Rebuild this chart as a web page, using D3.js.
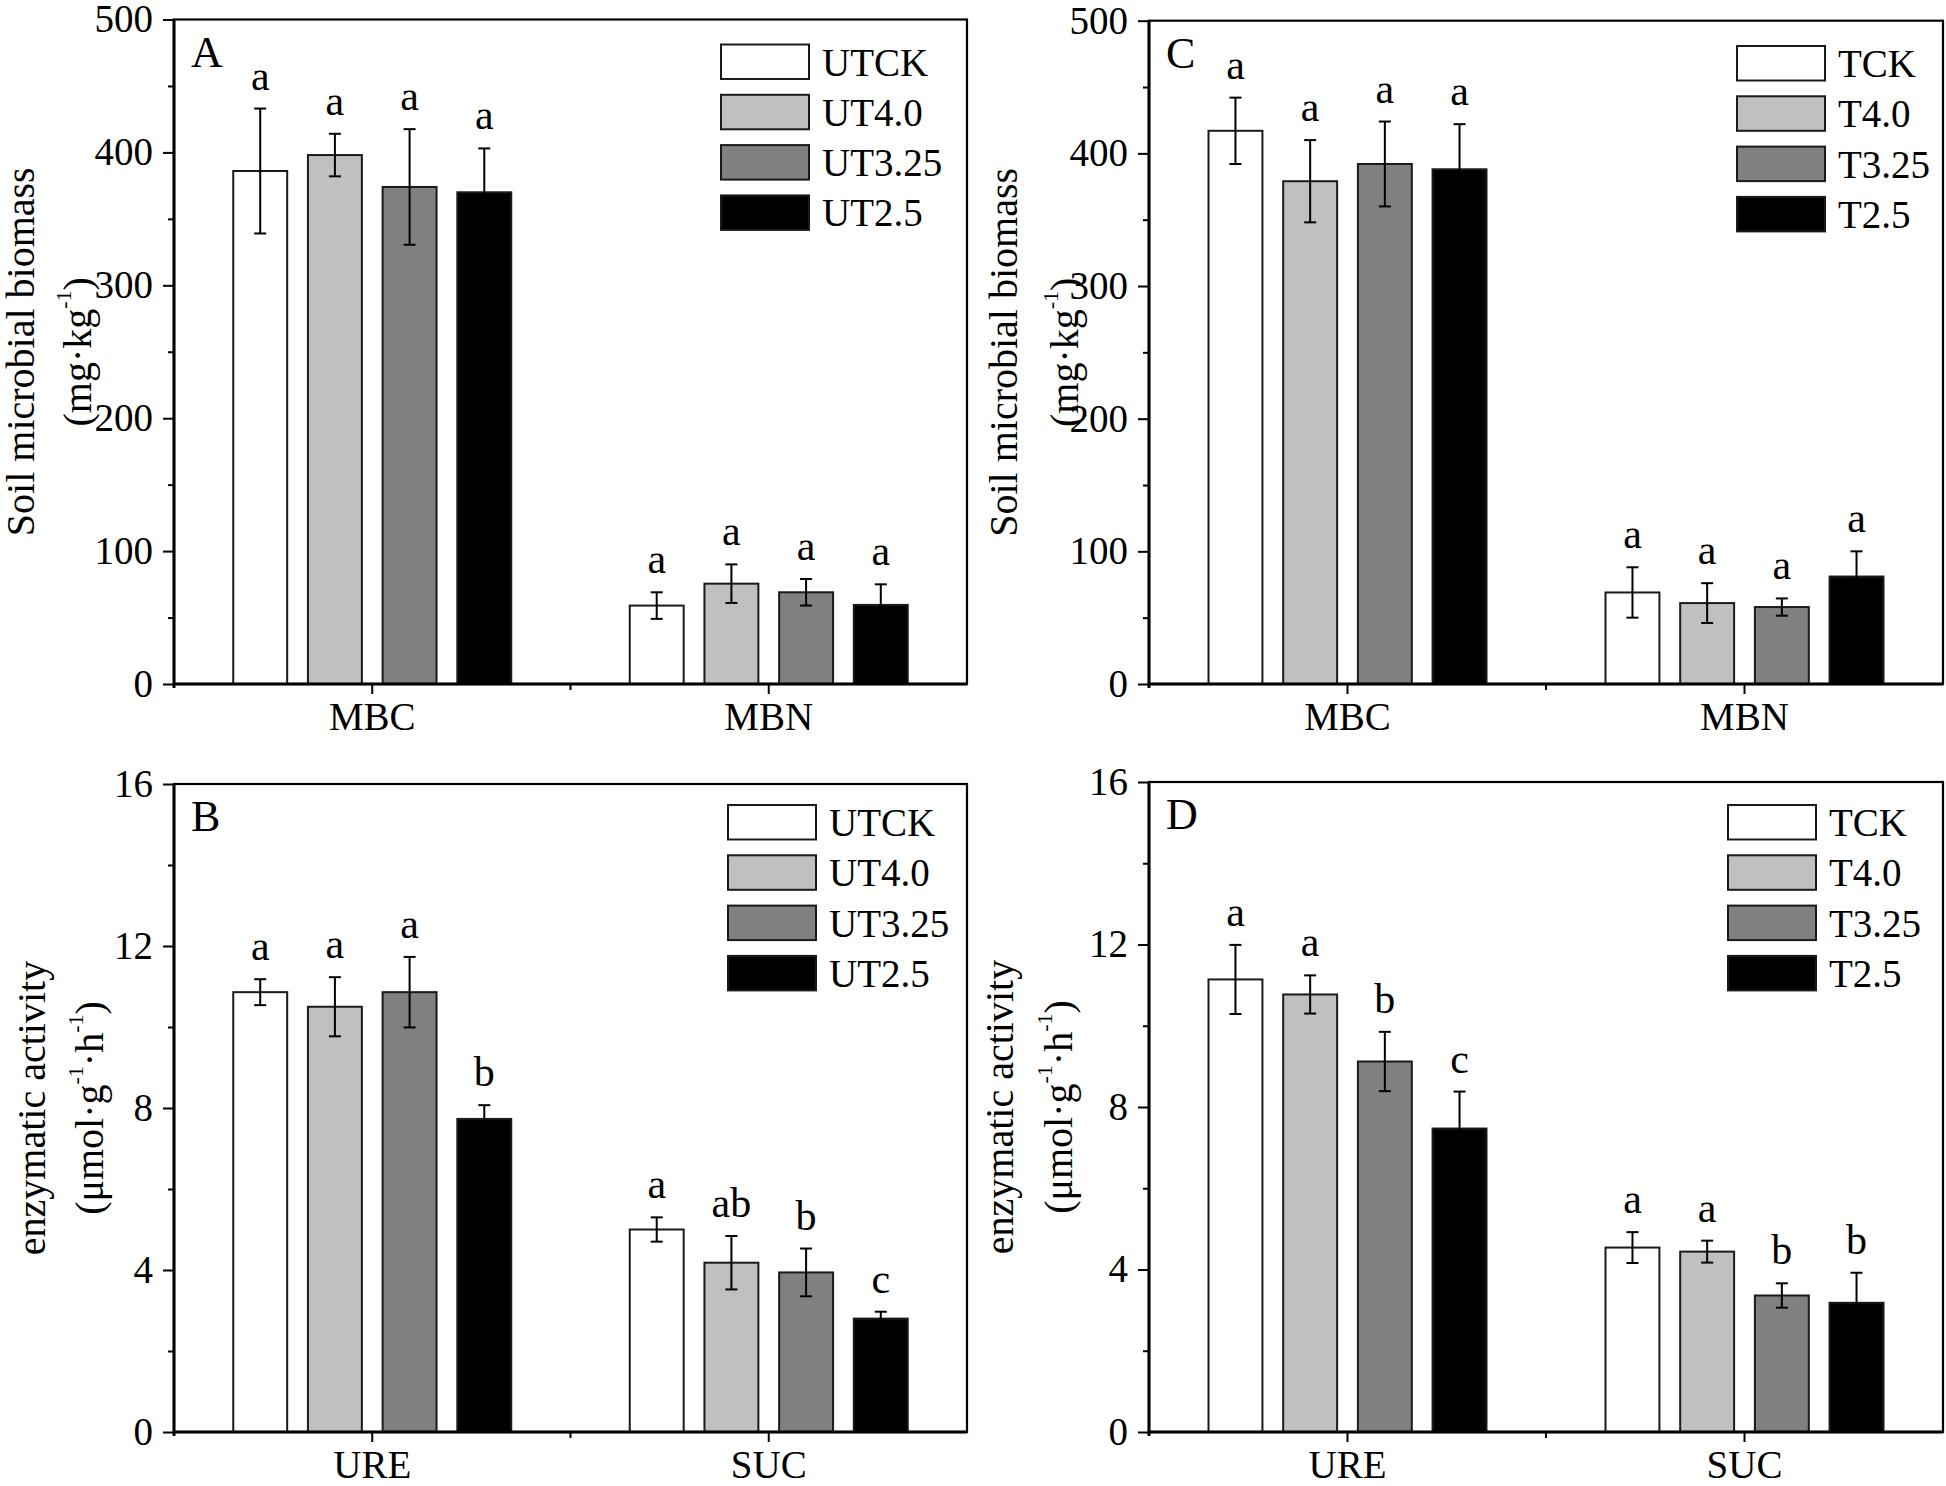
<!DOCTYPE html>
<html>
<head>
<meta charset="utf-8">
<script src="https://cdn.jsdelivr.net/npm/d3@7"></script>
<style>
body { margin: 0; background: #fff; }
svg text { font-family: "Liberation Serif", "Times New Roman", serif; fill: #000; }
</style>
</head>
<body>
<svg id="chart" width="1946" height="1486"></svg>
<script>
// treatments (left column untreated, right column treated)
var untreatedSeries = ["UTCK", "UT4.0", "UT3.25", "UT2.5"];
var treatedSeries = ["TCK", "T4.0", "T3.25", "T2.5"];
var seriesFills = ["#ffffff", "#c0c0c0", "#808080", "#000000"];

var biomassCats = ["MBC", "MBN"];
var enzymeCats = ["URE", "SUC"];

var biomassTicks = [0, 100, 200, 300, 400, 500];
var biomassMinor = [50, 150, 250, 350, 450];
var enzymeTicks = [0, 4, 8, 12, 16];
var enzymeMinor = [2, 6, 10, 14];

// panel A - soil microbial biomass, untreated
var aMeans = [[386, 398, 374, 370], [59, 75.5, 69, 59.5]];
var aErrs = [[47, 16, 43.5, 33], [10, 14.5, 10, 15.5]];
var aLetters = [["a", "a", "a", "a"], ["a", "a", "a", "a"]];

// panel B - enzymatic activity, untreated
var bMeans = [[10.86, 10.5, 10.86, 7.73], [5.0, 4.18, 3.94, 2.8]];
var bErrs = [[0.32, 0.73, 0.87, 0.34], [0.3, 0.66, 0.59, 0.17]];
var bLetters = [["a", "a", "a", "b"], ["a", "ab", "b", "c"]];

// panel C - soil microbial biomass, treated
var cMeans = [[417, 379, 392, 388], [69, 61, 58, 81]];
var cErrs = [[25, 31, 32, 34], [19, 15, 6.5, 19]];
var cLetters = [["a", "a", "a", "a"], ["a", "a", "a", "a"]];

// panel D - enzymatic activity, treated
var dMeans = [[11.14, 10.77, 9.12, 7.47], [4.54, 4.44, 3.36, 3.18]];
var dErrs = [[0.85, 0.47, 0.73, 0.91], [0.38, 0.27, 0.3, 0.74]];
var dLetters = [["a", "a", "b", "c"], ["a", "a", "b", "b"]];

var biomassTitle = ["Soil microbial biomass", [["(mg·kg", 0], ["-1", 1], [")", 0]]];
var enzymeTitle = ["enzymatic activity", [["(μmol·g", 0], ["-1", 1], ["·h", 0], ["-1", 1], [")", 0]]];

var svg = d3.select("#chart");
var tickFont = 39;
var titleFont = 40;

var panels = [
    {label: "A", cats: biomassCats, series: untreatedSeries, means: aMeans, errs: aErrs, letters: aLetters,
     yMax: 500, ticks: biomassTicks, minor: biomassMinor, title: biomassTitle,
     left: 174, right: 967, top: 19.5, bottom: 684, legX: 721, legY: 44.5, titleX: [34, 91]},
    {label: "B", cats: enzymeCats, series: untreatedSeries, means: bMeans, errs: bErrs, letters: bLetters,
     yMax: 16, ticks: enzymeTicks, minor: enzymeMinor, title: enzymeTitle,
     left: 174, right: 967, top: 784, bottom: 1432, legX: 728, legY: 805, titleX: [45, 103]},
    {label: "C", cats: biomassCats, series: treatedSeries, means: cMeans, errs: cErrs, letters: cLetters,
     yMax: 500, ticks: biomassTicks, minor: biomassMinor, title: biomassTitle,
     left: 1149, right: 1943, top: 20.7, bottom: 684, legX: 1737, legY: 46, titleX: [1017, 1078]},
    {label: "D", cats: enzymeCats, series: treatedSeries, means: dMeans, errs: dErrs, letters: dLetters,
     yMax: 16, ticks: enzymeTicks, minor: enzymeMinor, title: enzymeTitle,
     left: 1149, right: 1943, top: 782, bottom: 1432, legX: 1728, legY: 805, titleX: [1013, 1072]}
];

panels.forEach(drawPanel);

function drawPanel(p) {
    var g = svg.append("g");

    var x = d3.scaleBand().domain(p.cats).range([p.left, p.right]);
    var groupW = 278;
    var x1 = d3.scaleBand().domain(p.series).range([-groupW / 2, groupW / 2]).paddingInner(0.278);
    var y = d3.scaleLinear().domain([0, p.yMax]).range([p.bottom, p.top]);

    // flatten into rows
    var rows = [];
    p.cats.forEach(function(c, ci) {
        p.series.forEach(function(s, si) {
            rows.push({cat: c, series: s, mean: p.means[ci][si], err: p.errs[ci][si],
                       letter: p.letters[ci][si], fill: seriesFills[si]});
        });
    });
    var cx = function(d) { return x(d.cat) + x.bandwidth() / 2 + x1(d.series) + x1.bandwidth() / 2; };

    // bars
    g.selectAll("rect.bar")
        .data(rows)
        .join("rect")
        .attr("class", "bar")
        .attr("x", d => x(d.cat) + x.bandwidth() / 2 + x1(d.series))
        .attr("y", d => y(d.mean))
        .attr("width", x1.bandwidth())
        .attr("height", d => p.bottom - y(d.mean))
        .attr("fill", d => d.fill)
        .attr("stroke", "#1a1a1a")
        .attr("stroke-width", 2);

    // error bars
    var eb = g.selectAll("g.err").data(rows).join("g").attr("class", "err")
        .attr("stroke", "#000").attr("stroke-width", 2);
    eb.append("line")
        .attr("x1", cx).attr("x2", cx)
        .attr("y1", d => y(d.mean - d.err)).attr("y2", d => y(d.mean + d.err));
    eb.append("line")
        .attr("x1", d => cx(d) - 6).attr("x2", d => cx(d) + 6)
        .attr("y1", d => y(d.mean + d.err)).attr("y2", d => y(d.mean + d.err));
    eb.append("line")
        .attr("x1", d => cx(d) - 6).attr("x2", d => cx(d) + 6)
        .attr("y1", d => y(d.mean - d.err)).attr("y2", d => y(d.mean - d.err));

    // significance letters
    g.selectAll("text.sig").data(rows).join("text")
        .attr("class", "sig")
        .attr("x", cx)
        .attr("y", d => y(d.mean + d.err) - 19)
        .attr("text-anchor", "middle")
        .attr("font-size", 42)
        .text(d => d.letter);

    // axes
    g.append("g").attr("transform", "translate(" + p.left + ",0)")
        .call(d3.axisLeft(y).tickValues(p.ticks).tickSize(11).tickPadding(10).tickSizeOuter(0));
    g.append("g").attr("transform", "translate(" + p.left + ",0)")
        .call(d3.axisLeft(y).tickValues(p.minor).tickSize(6).tickFormat("").tickSizeOuter(0));
    g.append("g").attr("transform", "translate(0," + p.bottom + ")")
        .call(d3.axisBottom(x).tickSize(10).tickPadding(8).tickSizeOuter(0));
    // minor tick between the two categories
    g.append("line")
        .attr("x1", x(p.cats[1])).attr("x2", x(p.cats[1]))
        .attr("y1", p.bottom).attr("y2", p.bottom + 6)
        .attr("stroke", "#000").attr("stroke-width", 2);

    g.selectAll(".tick line").attr("stroke", "#000").attr("stroke-width", 2);
    g.selectAll(".domain").remove();
    g.selectAll(".tick text").attr("font-size", tickFont).attr("font-family", "Liberation Serif").attr("fill", "#000");

    // frame
    g.append("rect")
        .attr("x", p.left).attr("y", p.top)
        .attr("width", p.right - p.left).attr("height", p.bottom - p.top)
        .attr("fill", "none").attr("stroke", "#000").attr("stroke-width", 2.2);
    g.append("line").attr("x1", p.left).attr("x2", p.left).attr("y1", p.top).attr("y2", p.bottom + 4)
        .attr("stroke", "#000").attr("stroke-width", 3);
    g.append("line").attr("x1", p.left).attr("x2", p.right).attr("y1", p.bottom).attr("y2", p.bottom)
        .attr("stroke", "#000").attr("stroke-width", 3);

    // panel letter
    g.append("text")
        .attr("x", p.left + 17).attr("y", p.top + 47)
        .attr("font-size", 44)
        .text(p.label);

    // legend
    var leg = g.selectAll("g.leg").data(p.series).join("g").attr("class", "leg")
        .attr("transform", (d, i) => "translate(" + p.legX + "," + (p.legY + i * 50.3) + ")");
    leg.append("rect")
        .attr("width", 88).attr("height", 34.5)
        .attr("fill", (d, i) => seriesFills[i])
        .attr("stroke", "#1a1a1a").attr("stroke-width", 2);
    leg.append("text")
        .attr("x", 101).attr("y", 31)
        .attr("font-size", 39)
        .text(d => d);

    // y title, two lines
    var cy = (p.top + p.bottom) / 2;
    g.append("text")
        .attr("transform", "translate(" + p.titleX[0] + "," + cy + ") rotate(-90)")
        .attr("text-anchor", "middle")
        .attr("font-size", titleFont)
        .text(p.title[0]);
    var t2 = g.append("text")
        .attr("transform", "translate(" + p.titleX[1] + "," + cy + ") rotate(-90)")
        .attr("text-anchor", "middle")
        .attr("font-size", titleFont);
    var prevSup = 0;
    p.title[1].forEach(function(part) {
        var isSup = part[1];
        var dy = isSup && !prevSup ? -20 : (!isSup && prevSup ? 20 : 0);
        t2.append("tspan")
            .attr("dy", dy)
            .attr("font-size", isSup ? 22 : titleFont)
            .text(part[0]);
        prevSup = isSup;
    });
}
</script>
</body>
</html>
